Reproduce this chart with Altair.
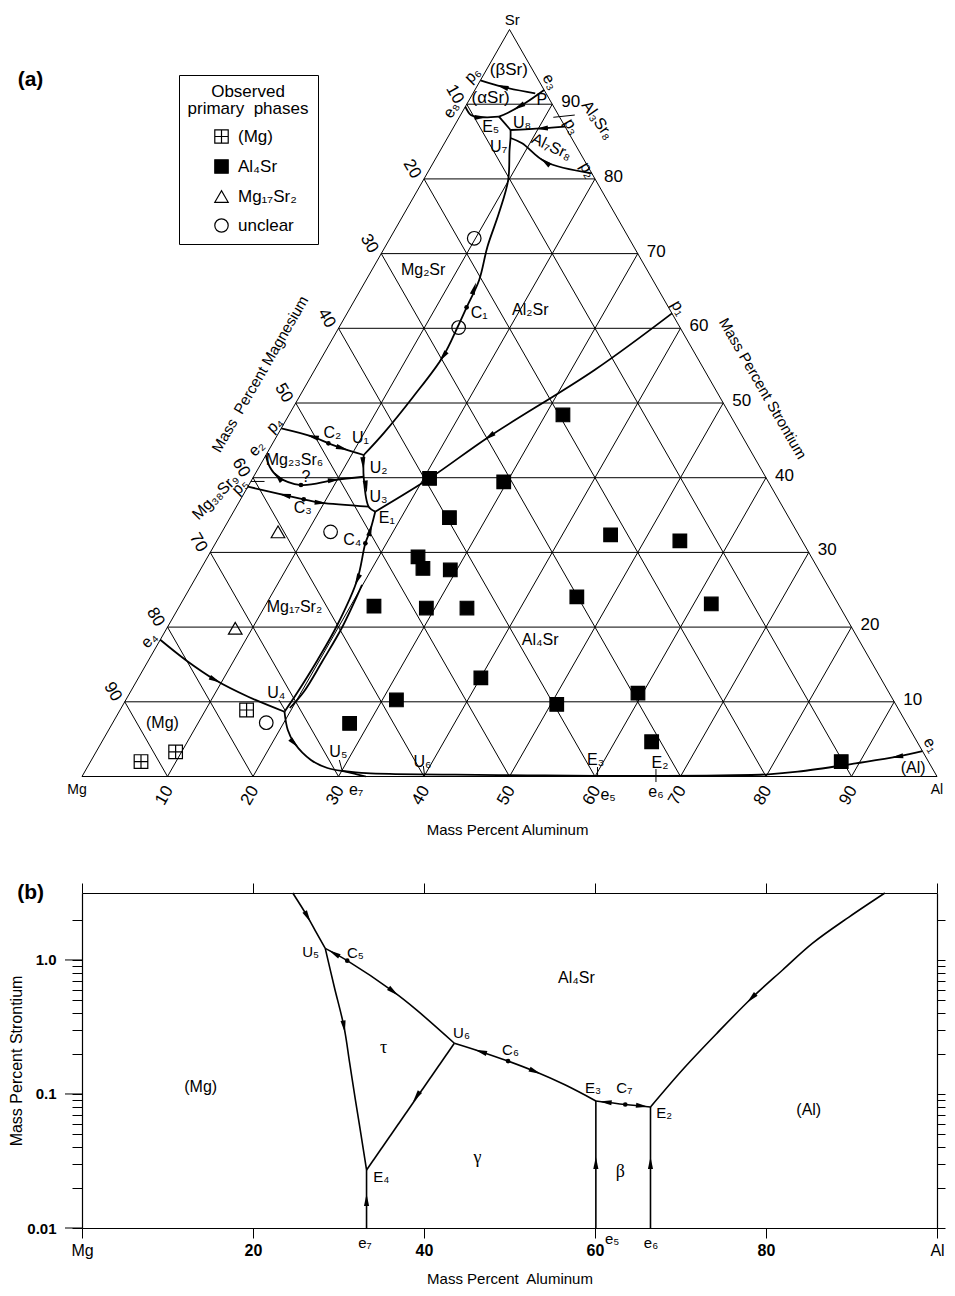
import math
import altair as alt
import pandas as pd

FONT = "Liberation Sans"
SERIF = "Liberation Serif"

# ======================= (a) Mg-Al-Sr liquidus projection =======================
# compositions in mass % (Al, Sr); Mg is the balance
grid_steps = [10, 20, 30, 40, 50, 60, 70, 80, 90]

phase_names = ["(Mg)", "Al₄Sr", "Mg₁₇Sr₂", "unclear"]
mg_al = [14.8, 9.3, 5.9]
mg_sr = [8.9, 3.3, 2.0]
al4sr_al = [32.05, 20.7, 29.6, 25.65, 24.6, 25.95, 29.25, 45.65, 54.15, 22.75, 29.0,
            33.75, 45.85, 62.05, 40.05, 31.65, 27.75, 50.7, 59.45, 64.3, 87.8]
al4sr_sr = [48.4, 39.9, 39.45, 34.65, 29.4, 27.85, 27.65, 32.35, 31.55, 22.8, 22.55,
            22.55, 24.05, 23.1, 13.2, 10.25, 7.1, 9.65, 11.15, 4.65, 2.0]
mg17_al = [6.55, 8.0]
mg17_sr = [32.75, 19.85]
unclear_al = [9.85, 14.0, 12.7, 17.95]
unclear_sr = [72.05, 60.1, 32.75, 7.2]

# univariant valleys (Al, Sr)
valleys_a = {
    "U8-U1": ([6.85, 7.38, 8.07, 9.92, 11.06, 11.96, 13.22, 13.58, 13.84, 14.11, 13.32, 12.30, 11.43],
              [86.55, 85.48, 83.87, 79.85, 75.39, 70.92, 66.47, 62.81, 60.21, 56.20, 50.84, 45.94, 43.04]),
    "U1-E1": ([11.43, 12.88, 15.47, 16.57], [43.04, 40.13, 36.12, 35.45]),
    "p4-U1": ([0.0, 4.23, 6.52, 8.47, 11.43], [46.6, 45.49, 44.60, 43.94, 43.04]),
    "e2-U2": ([0.0, 1.22, 2.85, 6.10, 9.63, 12.88], [43.0, 41.47, 40.13, 39.02, 39.69, 40.13]),
    "p5-U3": ([0.0, 4.85, 7.38, 9.6, 15.47], [38.8, 37.68, 37.11, 36.65, 36.12]),
    "p1-E1": ([38.0, 32.74, 24.86, 20.70, 16.57], [62.0, 54.42, 45.49, 39.92, 35.45]),
    "E1-U4": ([16.57, 17.22, 17.53, 19.03, 19.72, 19.75, 19.57, 19.35],
              [35.45, 33.0, 31.22, 26.31, 20.28, 15.60, 11.31, 8.67]),
    "twin": ([19.93, 20.44, 20.40, 20.27, 19.72], [25.64, 20.01, 15.46, 11.31, 9.17]),
    "e4-U4": ([0.0, 4.32, 9.13, 14.10, 19.35], [18.3, 15.60, 12.92, 10.68, 8.67]),
    "U4-U5": ([19.35, 20.96, 22.63, 25.67, 28.13, 30.0], [8.67, 6.22, 4.44, 2.21, 1.14, 0.75]),
    "U5-e7": ([30.0, 32.0, 33.2], [0.75, 0.3, 0.0]),
    "U5-e1": ([30.0, 33.0, 36.5, 43.5, 52.0, 60.1, 66.5, 73.0, 80.1, 83.4, 89.6, 94.0, 96.6],
              [0.75, 0.45, 0.33, 0.24, 0.15, 0.09, 0.08, 0.13, 0.29, 0.64, 1.77, 2.65, 3.4]),
    "p6-P": ([0.0, 2.98, 7.28], [93.2, 92.34, 91.46]),
    "e3-E5": ([8.1, 6.77, 5.36, 4.60], [91.9, 90.16, 88.82, 88.33]),
    "e8-E5": ([0.0, 1.21, 2.52, 4.60], [89.67, 88.55, 88.25, 88.33]),
    "E5-U8": ([4.60, 6.85], [88.33, 86.55]),
    "p3-U8": ([13.0, 10.39, 6.85], [87.0, 86.77, 86.55]),
    "p2-U7": ([19.25, 13.02, 9.09, 7.38], [80.75, 82.30, 84.77, 85.48]),
}
# compound marks and label pointers (Al, Sr)
thin_a = {
    "Al3Sr8": ([11.0, 13.36], [88.25, 88.55]),
    "Mg38Sr9": ([0.0, 1.6], [39.5, 39.5]),
    "ptrU4": ([17.91, 19.28], [10.24, 8.90]),
    "ptrU5": ([28.99, 30.07], [2.21, 0.74]),
    "ptrU6": ([39.22, 39.88], [1.41, 0.33]),
    "ptrE3": ([59.66, 60.27], [1.27, 0.07]),
    "ptrE2": ([66.63, 67.5], [1.0, -0.74]),
}
# arrows: position (Al, Sr) and the point they head to
arr_a_al = [13.19, 14.11, 11.91, 13.82, 4.23, 8.47, 2.85, 9.63, 4.85, 9.6, 24.86, 17.22, 19.03,
            9.13, 22.63, 94.0, 2.98, 6.25, 2.52, 10.39, 13.02]
arr_a_sr = [65.35, 56.20, 41.93, 38.80, 45.49, 43.94, 40.13, 39.69, 37.68, 36.65, 45.49, 33.0, 26.31,
            12.92, 4.44, 2.65, 92.34, 89.67, 88.25, 86.77, 82.30]
arr_a_al_to = [11.96, 13.32, 12.88, 15.47, 0.0, 11.43, 1.22, 12.88, 0.0, 15.47, 20.70, 16.57, 19.72,
               14.10, 25.67, 89.6, 0.0, 5.36, 4.60, 6.85, 9.09]
arr_a_sr_to = [70.92, 50.84, 40.13, 36.12, 46.6, 43.04, 41.47, 40.13, 38.8, 36.12, 39.92, 35.45, 20.28,
               10.68, 2.21, 1.77, 93.2, 88.82, 88.33, 86.55, 84.77]
# saddle points C1..C4 and "?" (Al, Sr)
dots_a_al = [13.58, 6.52, 7.38, 17.53, 6.10]
dots_a_sr = [62.81, 44.60, 37.11, 31.22, 39.02]

# labels in triangle-plot coordinates (x along base, y = Sr): text, x, y, angle, size
labels_a = [
    ("Sr", 50.31, 101.27, 0, 15), ("Mg", -0.58, -1.81, 0, 14), ("Al", 100.0, -1.81, 0, 14),
    ("Mass Percent Aluminum", 49.77, -7.16, 0, 15),
    ("Mass\u00a0 Percent Magnesium", 20.83, 53.88, 300, 15),
    ("Mass Percent Strontium", 79.63, 51.94, 60, 15),
    ("(βSr)", 49.92, 94.58, 0, 17), ("(αSr)", 47.80, 90.79, 0, 17), ("Mg₂Sr", 39.90, 67.80, 0, 16),
    ("Al₂Sr", 52.43, 62.45, 0, 16), ("Mg₂₃Sr₆", 24.85, 42.37, 0, 16), ("Mg₁₇Sr₂", 24.85, 22.73, 0, 16),
    ("Al₄Sr", 53.59, 18.27, 0, 16), ("(Mg)", 9.41, 7.12, 0, 16), ("(Al)", 97.22, 1.14, 0, 16),
    ("Al₇Sr₈", 54.94, 84.31, 25, 16), ("Al₃Sr₈", 60.30, 87.88, 55, 16), ("Mg₃₈Sr₉", 15.59, 37.45, 315, 16),
    ("P", 53.79, 90.56, 0, 16), ("E₅", 47.80, 86.99, 0, 16), ("U₈", 51.47, 87.44, 0, 16),
    ("U₇", 48.73, 84.31, 0, 16), ("C₁", 46.45, 62.01, 0, 16), ("C₂", 29.28, 45.94, 0, 16),
    ("U₁", 32.56, 45.27, 0, 16), ("?", 26.19, 40.13, 0, 16), ("U₂", 34.69, 41.26, 0, 16),
    ("U₃", 34.69, 37.46, 0, 16), ("C₃", 25.81, 35.90, 0, 16), ("E₁", 35.65, 34.56, 0, 16),
    ("C₄", 31.60, 31.66, 0, 16), ("U₄", 22.72, 11.14, 0, 16), ("U₅", 29.98, 3.28, 0, 16),
    ("U₆", 39.81, 1.98, 0, 16), ("E₃", 60.07, 2.21, 0, 16), ("E₂", 67.59, 1.81, 0, 16),
    ("e₇", 32.06, -1.81, 0, 16), ("e₅", 61.53, -2.48, 0, 16), ("e₆", 67.13, -2.03, 0, 16),
    ("p₆", 45.68, 93.91, 315, 16), ("e₃", 54.75, 93.01, 60, 16), ("e₈", 43.17, 89.22, 300, 16),
    ("p₃", 57.26, 86.99, 60, 16), ("p₂", 59.14, 81.19, 60, 16), ("p₁", 69.79, 62.72, 60, 16),
    ("p₄", 22.53, 47.06, 315, 16), ("e₂", 20.41, 43.94, 315, 16), ("p₅", 18.48, 38.80, 315, 16),
    ("e₄", 7.87, 18.27, 315, 16), ("e₁", 99.30, 4.22, 60, 16),
]
panel_a_tag = ("(a)", -6.02, 93.24)

# ======================= (b) Mg-rich / Al-rich low-Sr region =======================
curves_b = {
    "top-U5": ([24.65, 26.39, 27.43, 28.45], [3.16, 2.10, 1.59, 1.22]),
    "U5-E4": ([28.45, 29.51, 30.64, 31.31, 31.98, 32.64, 33.28],
              [1.22, 0.629, 0.318, 0.170, 0.090, 0.0494, 0.0271]),
    "e7-E4": ([33.28, 33.28], [0.01, 0.0271]),
    "U5-U6": ([28.45, 31.02, 36.42, 39.12, 43.55], [1.22, 0.988, 0.58, 0.424, 0.239]),
    "U6-E4": ([43.55, 33.28], [0.239, 0.0271]),
    "U6-E3": ([43.55, 46.64, 49.83, 53.0, 56.48, 60.1], [0.239, 0.207, 0.176, 0.147, 0.117, 0.0887]),
    "E3-E2": ([60.1, 63.54, 66.49], [0.0887, 0.0835, 0.080]),
    "e5-E3": ([60.1, 60.1], [0.01, 0.0887]),
    "e6-E2": ([66.49, 66.49], [0.01, 0.080]),
    "E2-top": ([66.49, 70.37, 74.31, 78.30, 81.94, 85.42, 89.7, 93.9],
               [0.080, 0.155, 0.286, 0.518, 0.842, 1.33, 2.09, 3.16]),
}
arr_b_al = [26.39, 30.64, 29.48, 36.42, 39.12, 46.64, 53.0, 61.23, 65.51, 33.28, 60.1, 66.49, 78.30]
arr_b_sr = [2.10, 0.318, 1.12, 0.58, 0.0954, 0.207, 0.147, 0.0870, 0.0814, 0.0162, 0.0306, 0.0306, 0.518]
arr_b_al_to = [27.43, 31.31, 28.45, 39.12, 33.28, 43.55, 56.48, 60.1, 66.49, 33.28, 60.1, 66.49, 74.31]
arr_b_sr_to = [1.59, 0.170, 1.22, 0.424, 0.0271, 0.239, 0.117, 0.0887, 0.080, 0.0271, 0.0887, 0.080, 0.286]
dots_b_al = [31.02, 49.83, 63.54]
dots_b_sr = [0.988, 0.176, 0.0835]
labels_b = [
    ("U₅", 26.74, 1.147, 15), ("C₅", 31.98, 1.122, 15), ("Al₄Sr", 57.83, 0.73, 16),
    ("U₆", 44.39, 0.283, 15), ("C₆", 50.12, 0.213, 15), ("E₃", 59.76, 0.110, 15),
    ("C₇", 63.43, 0.110, 15), ("E₂", 68.1, 0.0718, 15), ("(Mg)", 13.88, 0.113, 16),
    ("(Al)", 85.0, 0.076, 16), ("E₄", 35.0, 0.0241, 15), ("e₇", 33.1, 0.0077, 15),
    ("e₅", 62.0, 0.0083, 15), ("e₆", 66.55, 0.0077, 15),
]
greek_b = [("τ", 35.27, 0.219), ("γ", 46.27, 0.0331), ("β", 62.96, 0.0263)]
panel_b_tag = ("(b)", -6.0, 3.16)
x_ticks_b = [0, 20, 40, 60, 80, 100]
y_major_b = [0.01, 0.1, 1.0]
y_minor_b = [0.02, 0.03, 0.04, 0.05, 0.06, 0.07, 0.08, 0.09,
             0.2, 0.3, 0.4, 0.5, 0.6, 0.7, 0.8, 0.9, 2.0]

# ======================= layout constants =======================
W = 855
HA = 837
YA = [-9.17, 102.88]
HB = 335
YB = [0.01, 3.16]
KX = W / 100.0
KYA = HA / (YA[1] - YA[0])
KYB = HB / (math.log10(YB[1]) - math.log10(YB[0]))
CROSS = "M-1,-1H1V1H-1Z M0,-1V1 M-1,0H1"
ARROW = "M0,-1L0.42,1L-0.42,1Z"


def tern(al, sr):
    return al + sr / 2.0, sr


def heading(dx_px, dy_up_px):
    return (math.degrees(math.atan2(dx_px, dy_up_px)) + 360.0) % 360.0


def add_path(rows, name, pts):
    for i, (x, y) in enumerate(pts):
        rows.append({"id": name, "ord": i, "x": x, "y": y})


# ---------- build panel (a) tables
grid_rows = []
add_path(grid_rows, "edge", [tern(0, 0), tern(100, 0), tern(0, 100), tern(0, 0)])
for k in grid_steps:
    add_path(grid_rows, f"sr{k}", [tern(0, k), tern(100 - k, k)])
    add_path(grid_rows, f"al{k}", [tern(k, 0), tern(k, 100 - k)])
    add_path(grid_rows, f"mg{k}", [tern(100 - k, 0), tern(0, 100 - k)])

valley_rows = []
for name, (als, srs) in valleys_a.items():
    add_path(valley_rows, name, [tern(a, s) for a, s in zip(als, srs)])
thin_rows = []
for name, (als, srs) in thin_a.items():
    add_path(thin_rows, name, [tern(a, s) for a, s in zip(als, srs)])

arr_a_rows = []
for a, s, a2, s2 in zip(arr_a_al, arr_a_sr, arr_a_al_to, arr_a_sr_to):
    x1, y1 = tern(a, s)
    x2, y2 = tern(a2, s2)
    arr_a_rows.append({"x": x1, "y": y1, "angle": heading((x2 - x1) * KX, (y2 - y1) * KYA)})

dot_a_rows = [dict(zip(("x", "y"), tern(a, s))) for a, s in zip(dots_a_al, dots_a_sr)]

obs_rows = []
for name, als, srs in zip(phase_names, [mg_al, al4sr_al, mg17_al, unclear_al],
                          [mg_sr, al4sr_sr, mg17_sr, unclear_sr]):
    for a, s in zip(als, srs):
        x, y = tern(a, s)
        obs_rows.append({"phase": name, "x": x, "y": y})

tick_rows = []
for k in grid_steps:
    x, y = tern(k, 0)
    tick_rows.append({"t": str(k), "x": x - 3 / KX, "y": y - 19 / KYA, "angle": 300, "size": 17})
    x, y = tern(0, 100 - k)
    tick_rows.append({"t": str(k), "x": x - 12 / KX, "y": y + 10 / KYA, "angle": 60, "size": 17})
right_rows = []
for k in grid_steps:
    x, y = tern(100 - k, k)
    right_rows.append({"t": str(k), "x": x + 9 / KX, "y": y + 2 / KYA, "angle": 0, "size": 17})

lab_a_rows = [{"t": t, "x": x, "y": y, "angle": an, "size": sz} for t, x, y, an, sz in labels_a]
lab_a_rows += tick_rows

XA = alt.X("x:Q", scale=alt.Scale(domain=[0, 100], nice=False, zero=False), axis=None)
YAE = alt.Y("y:Q", scale=alt.Scale(domain=YA, nice=False, zero=False), axis=None)

LEG = alt.Legend(
    title=["Observed", "primary\u00a0\u00a0phases"], orient="none", legendX=97, legendY=67,
    strokeColor="black", fillColor="white", padding=9,
    titleFont=FONT, titleFontSize=17, titleFontWeight="normal", titleColor="black",
    titleAnchor="middle", titleAlign="center", titleLineHeight=17, titlePadding=10,
    labelFont=FONT, labelFontSize=17, labelColor="black", symbolOffset=14, labelOffset=8,
    rowPadding=11, symbolSize=180, symbolStrokeColor="black", symbolStrokeWidth=1.2,
)
phase_scale_kw = dict(domain=phase_names)

a_grid = alt.Chart(pd.DataFrame(grid_rows)).mark_line(color="black", strokeWidth=1).encode(
    x=XA, y=YAE, detail="id:N", order="ord:Q")
a_thin = alt.Chart(pd.DataFrame(thin_rows)).mark_line(color="black", strokeWidth=1).encode(
    x=XA, y=YAE, detail="id:N", order="ord:Q")
a_valleys = alt.Chart(pd.DataFrame(valley_rows)).mark_line(
    color="black", strokeWidth=1.8, interpolate="catmull-rom").encode(
    x=XA, y=YAE, detail="id:N", order="ord:Q")
a_obs = alt.Chart(pd.DataFrame(obs_rows)).mark_point(
    filled=True, strokeWidth=1.2, size=185, opacity=1).encode(
    x=XA, y=YAE,
    shape=alt.Shape("phase:N", scale=alt.Scale(range=[CROSS, "square", "triangle-up", "circle"],
                                               **phase_scale_kw), legend=LEG),
    fill=alt.Fill("phase:N", scale=alt.Scale(range=["transparent", "black", "transparent", "transparent"],
                                             **phase_scale_kw), legend=LEG),
    stroke=alt.Stroke("phase:N", scale=alt.Scale(range=["black", "black", "black", "black"],
                                                 **phase_scale_kw), legend=LEG),
)
a_arrows = alt.Chart(pd.DataFrame(arr_a_rows)).mark_point(
    shape=ARROW, filled=True, color="black", size=150, opacity=1, strokeWidth=0).encode(
    x=XA, y=YAE, angle=alt.Angle("angle:Q", scale=None))
a_dots = alt.Chart(pd.DataFrame(dot_a_rows)).mark_point(
    shape="circle", filled=True, color="black", size=22, opacity=1).encode(x=XA, y=YAE)
a_text = alt.Chart(pd.DataFrame(lab_a_rows)).mark_text(
    font=FONT, color="black", align="center", baseline="middle").encode(
    x=XA, y=YAE, text="t:N", angle=alt.Angle("angle:Q", scale=None), size=alt.Size("size:Q", scale=None))
a_text_r = alt.Chart(pd.DataFrame(right_rows)).mark_text(
    font=FONT, color="black", align="left", baseline="middle").encode(
    x=XA, y=YAE, text="t:N", size=alt.Size("size:Q", scale=None))
a_tag = alt.Chart(pd.DataFrame([{"t": panel_a_tag[0], "x": panel_a_tag[1], "y": panel_a_tag[2]}])).mark_text(
    font=FONT, fontSize=21, fontWeight="bold", color="black", align="center", baseline="middle").encode(
    x=XA, y=YAE, text="t:N")

panel_a = alt.layer(a_grid, a_thin, a_valleys, a_obs, a_arrows, a_dots, a_text, a_text_r, a_tag).properties(
    width=W, height=HA)

# ---------- build panel (b) tables
curve_b_rows = []
for name, (als, srs) in curves_b.items():
    add_path(curve_b_rows, name, list(zip(als, srs)))

arr_b_rows = []
for a, s, a2, s2 in zip(arr_b_al, arr_b_sr, arr_b_al_to, arr_b_sr_to):
    arr_b_rows.append({"x": a, "y": s,
                       "angle": heading((a2 - a) * KX, (math.log10(s2) - math.log10(s)) * KYB)})
dot_b_rows = [{"x": a, "y": s} for a, s in zip(dots_b_al, dots_b_sr)]
lab_b_rows = [{"t": t, "x": x, "y": y, "size": sz} for t, x, y, sz in labels_b]
greek_rows = [{"t": t, "x": x, "y": y} for t, x, y in greek_b]

SCX = alt.Scale(domain=[0, 100], nice=False, zero=False)
SCY = alt.Scale(type="log", domain=YB, nice=False)
XB = alt.X("x:Q", scale=SCX, axis=None)
YBE = alt.Y("y:Q", scale=SCY, axis=None)

x_axis_b = alt.Axis(
    orient="bottom", values=x_ticks_b,
    labelExpr="datum.value == 0 ? 'Mg' : datum.value == 100 ? 'Al' : datum.label",
    tickSize=10, tickColor="black", tickWidth=1, domainColor="black", domainWidth=1.2,
    labelFont=FONT, labelFontSize=16, labelColor="black", labelPadding=4, labelFlush=False,
    labelFontWeight={"condition": {"test": "datum.value == 0 || datum.value == 100", "value": "normal"},
                     "value": "bold"},
    titleFont=FONT, titleFontSize=15, titleFontWeight="normal", titleColor="black", titlePadding=13,
    grid=False, format="d",
)
y_axis_b = alt.Axis(
    orient="left", values=y_major_b + y_minor_b,
    labelExpr="datum.value == 0.01 ? '0.01' : datum.value == 0.1 ? '0.1' : datum.value == 1 ? '1.0' : ''",
    tickSize=10, tickColor="black", tickWidth=1, domainColor="black", domainWidth=1.2,
    labelFont=FONT, labelFontSize=15, labelFontWeight="bold", labelColor="black", labelPadding=16,
    labelOverlap=False, titleFont=FONT, titleFontSize=16, titleFontWeight="normal", titleColor="black",
    titlePadding=2, grid=False,
)

b_curves = alt.Chart(pd.DataFrame(curve_b_rows)).mark_line(
    color="black", strokeWidth=1.6, interpolate="catmull-rom").encode(
    x=alt.X("x:Q", scale=SCX, axis=x_axis_b, title="Mass Percent\u00a0 Aluminum"),
    y=alt.Y("y:Q", scale=SCY, axis=y_axis_b, title="Mass Percent Strontium"),
    detail="id:N", order="ord:Q")
b_major = alt.Chart(pd.DataFrame({"y": y_major_b})).mark_rule(color="black", strokeWidth=1).encode(
    y=YBE, x=alt.value(-17), x2=alt.value(0))
b_frame = alt.Chart(pd.DataFrame({"x": [50.0], "y": [0.1]})).mark_point(opacity=0).encode(
    x=alt.X("x:Q", scale=SCX, title=None,
            axis=alt.Axis(orient="top", values=x_ticks_b, labels=False, tickSize=10, tickColor="black",
                          domainColor="black", domainWidth=1.2, grid=False)),
    y=alt.Y("y:Q", scale=SCY, title=None,
            axis=alt.Axis(orient="right", values=y_major_b + y_minor_b, labels=False, tickSize=8,
                          tickColor="black", domainColor="black", domainWidth=1.2, grid=False)))
b_arrows = alt.Chart(pd.DataFrame(arr_b_rows)).mark_point(
    shape=ARROW, filled=True, color="black", size=150, opacity=1, strokeWidth=0).encode(
    x=XB, y=YBE, angle=alt.Angle("angle:Q", scale=None))
b_dots = alt.Chart(pd.DataFrame(dot_b_rows)).mark_point(
    shape="circle", filled=True, color="black", size=22, opacity=1).encode(x=XB, y=YBE)
b_text = alt.Chart(pd.DataFrame(lab_b_rows)).mark_text(
    font=FONT, color="black", align="center", baseline="middle").encode(
    x=XB, y=YBE, text="t:N", size=alt.Size("size:Q", scale=None))
b_greek = alt.Chart(pd.DataFrame(greek_rows)).mark_text(
    font=SERIF, fontSize=18, color="black", align="center", baseline="middle").encode(
    x=XB, y=YBE, text="t:N")
b_tag = alt.Chart(pd.DataFrame([{"t": panel_b_tag[0], "x": panel_b_tag[1], "y": panel_b_tag[2]}])).mark_text(
    font=FONT, fontSize=21, fontWeight="bold", color="black", align="center", baseline="middle").encode(
    x=XB, y=YBE, text="t:N")

panel_b = alt.layer(b_curves, b_frame, b_major, b_arrows, b_dots, b_text, b_greek, b_tag).resolve_axis(
    x="independent", y="independent").properties(width=W, height=HB)

chart = alt.vconcat(panel_a, panel_b, spacing=48, bounds="flush",
                    padding={"left": 0, "top": 0, "right": 0, "bottom": 0}).configure_view(stroke=None)

chart.save("out.html", embed_options={"renderer": "svg", "actions": False})
